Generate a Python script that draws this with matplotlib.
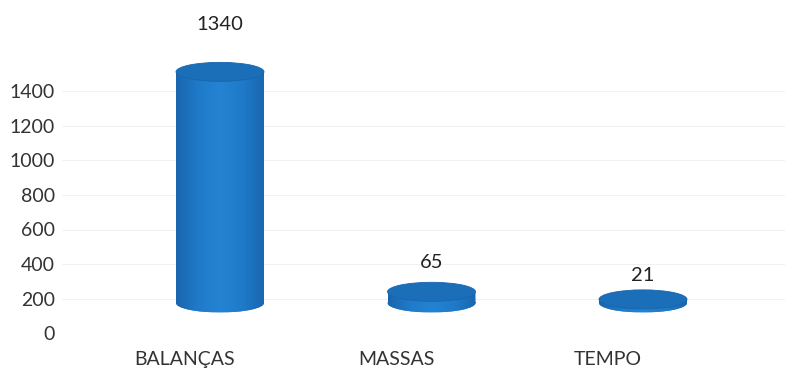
import matplotlib
matplotlib.use("Agg")
import matplotlib.pyplot as plt
from matplotlib.patches import Ellipse
import matplotlib.transforms as mtransforms
from matplotlib.colors import LinearSegmentedColormap
import numpy as np

categories = ["BALANÇAS", "MASSAS", "TEMPO"]
values = [1340, 65, 21]
yticks = [0, 200, 400, 600, 800, 1000, 1200, 1400]

# style / layout
W, H = 787, 372
DPI = 100
base = 174          # perspective floor offset
bar_w = 0.416
ell_h = 110
label_offsets = [38, 20, 14]   # pixels above cylinder top
body_color = "#1f7bc9"
top_color = "#1b6fb9"
edge_color = "#1865ad"
shade = LinearSegmentedColormap.from_list(
    "shade", ["#1a66ad", "#1f7bca", "#2483d2", "#1f7bca", "#1a68b0"])

plt.rcParams['font.family'] = ['Lato', 'DejaVu Sans']
fig = plt.figure(figsize=(W / DPI, H / DPI), dpi=DPI)
ax = fig.add_axes([62 / W, 39 / H, (785 - 62) / W, 276 / H])
ax.set_ylim(0, 1600)
left_units = (220 - 62) / 211.5
ax.set_xlim(-left_units, -left_units + (785 - 62) / 211.5)

for t in yticks:
    ax.axhline(t, color="#f1f1f1", lw=0.8, zorder=0)

grad = np.linspace(0, 1, 64).reshape(1, -1)
x = list(range(len(categories)))
for i, v in enumerate(values):
    bars = ax.bar(i, v, width=bar_w, bottom=base, color=body_color, zorder=2, linewidth=0)
    bottom_ell = Ellipse((i, base), bar_w, ell_h, facecolor=shade(0.5),
                         edgecolor="none", zorder=1.9)
    ax.add_patch(bottom_ell)
    im = ax.imshow(grad, cmap=shade, aspect="auto", zorder=2.1,
                   extent=(i - bar_w / 2, i + bar_w / 2, base - ell_h / 2, base + v))
    from matplotlib.path import Path
    body_path = Path.make_compound_path(
        bars[0].get_path().transformed(bars[0].get_patch_transform()),
        bottom_ell.get_path().transformed(bottom_ell.get_patch_transform()))
    im.set_clip_path(body_path, ax.transData)
    ax.add_patch(Ellipse((i, base + v), bar_w, ell_h, facecolor=top_color,
                         edgecolor=edge_color, lw=0.6, zorder=3))
    ax.annotate(str(v), (i, base + v + ell_h / 2), xytext=(0, label_offsets[i]),
                textcoords="offset pixels", ha="center", va="center",
                fontsize=14.5, color="#222222", annotation_clip=False)

ax.set_ylim(0, 1600)
left_units = (220 - 62) / 211.5
ax.set_xlim(-left_units, -left_units + (785 - 62) / 211.5)
ax.set_yticks(yticks)
ax.set_xticks(x)
ax.set_xticklabels(categories)
ax.tick_params(axis="both", length=0, labelsize=14, labelcolor="#333333")
ax.tick_params(axis="x", pad=13)
ax.tick_params(axis="y", pad=5)
off = mtransforms.ScaledTranslation(-35 / DPI, 0, fig.dpi_scale_trans)
for lab in ax.get_xticklabels():
    lab.set_transform(lab.get_transform() + off)
for s in ax.spines.values():
    s.set_visible(False)

fig.savefig("out.png", dpi=DPI)
